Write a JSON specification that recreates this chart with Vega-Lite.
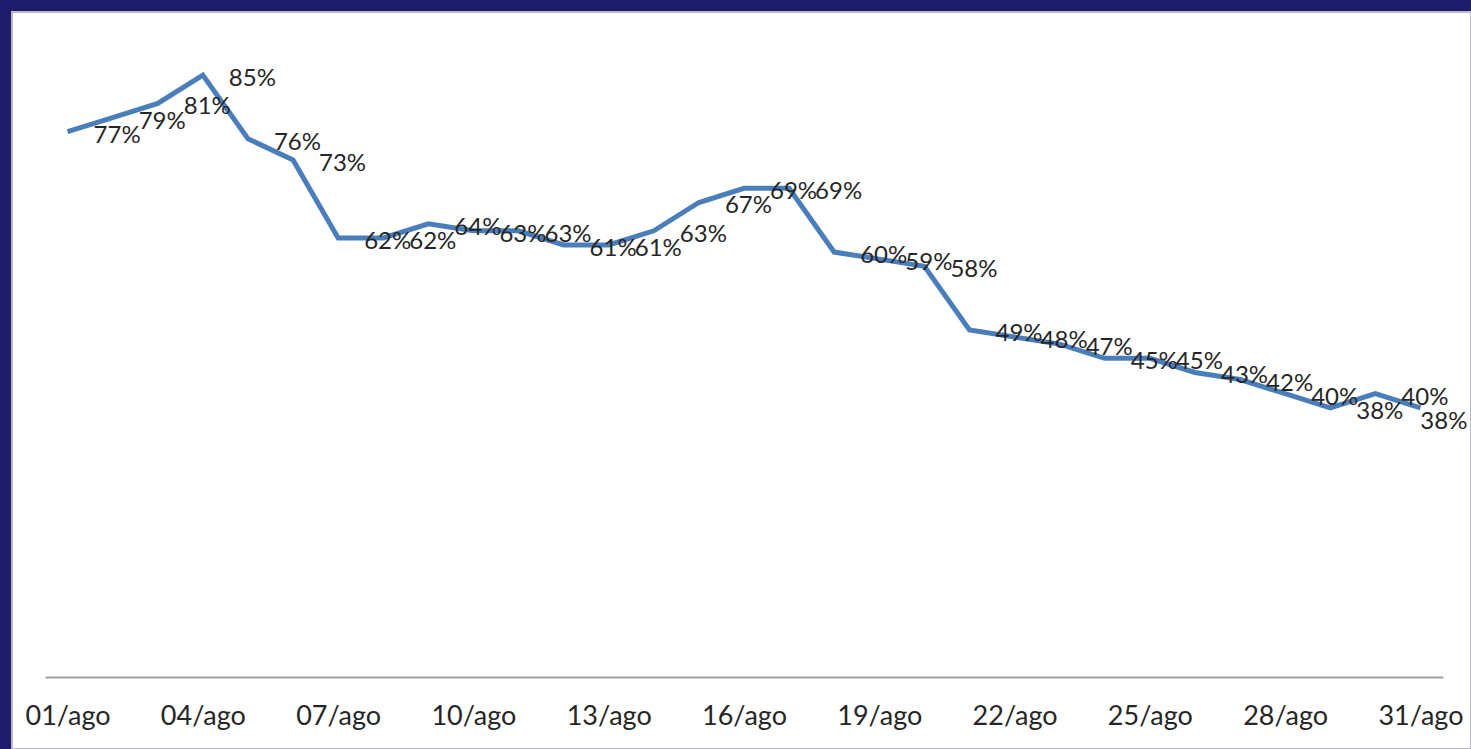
{
  "$schema": "https://vega.github.io/schema/vega-lite/v6.json",
  "width": 1459,
  "height": 737,
  "autosize": {"type": "none"},
  "padding": {"left": 12, "top": 12, "right": 0, "bottom": 0},
  "background": "#201c6c",
  "config": {
    "view": {"fill": "white", "stroke": "#b8b8c8", "strokeWidth": 2}
  },
  "data": {
    "values": [
      {"dia": "01/ago", "v": 0.77}, {"dia": "02/ago", "v": 0.79}, {"dia": "03/ago", "v": 0.81},
      {"dia": "04/ago", "v": 0.85}, {"dia": "05/ago", "v": 0.76}, {"dia": "06/ago", "v": 0.73},
      {"dia": "07/ago", "v": 0.62}, {"dia": "08/ago", "v": 0.62}, {"dia": "09/ago", "v": 0.64},
      {"dia": "10/ago", "v": 0.63}, {"dia": "11/ago", "v": 0.63}, {"dia": "12/ago", "v": 0.61},
      {"dia": "13/ago", "v": 0.61}, {"dia": "14/ago", "v": 0.63}, {"dia": "15/ago", "v": 0.67},
      {"dia": "16/ago", "v": 0.69}, {"dia": "17/ago", "v": 0.69}, {"dia": "18/ago", "v": 0.60},
      {"dia": "19/ago", "v": 0.59}, {"dia": "20/ago", "v": 0.58}, {"dia": "21/ago", "v": 0.49},
      {"dia": "22/ago", "v": 0.48}, {"dia": "23/ago", "v": 0.47}, {"dia": "24/ago", "v": 0.45},
      {"dia": "25/ago", "v": 0.45}, {"dia": "26/ago", "v": 0.43}, {"dia": "27/ago", "v": 0.42},
      {"dia": "28/ago", "v": 0.40}, {"dia": "29/ago", "v": 0.38}, {"dia": "30/ago", "v": 0.40},
      {"dia": "31/ago", "v": 0.38}
    ]
  },
  "encoding": {
    "x": {
      "field": "dia",
      "type": "ordinal",
      "sort": null,
      "scale": {"type": "point", "padding": 0.5, "range": [33, 1431]},
      "axis": {
        "title": null,
        "orient": "bottom",
        "offset": -72,
        "values": ["01/ago", "04/ago", "07/ago", "10/ago", "13/ago", "16/ago", "19/ago", "22/ago", "25/ago", "28/ago", "31/ago"],
        "labelAngle": 0,
        "labelFont": "Lato",
        "labelFontSize": 27,
        "labelColor": "#262626",
        "labelPadding": 26,
        "ticks": false,
        "grid": false,
        "domainColor": "#a0a0a0",
        "domainWidth": 2
      }
    },
    "y": {
      "field": "v",
      "type": "quantitative",
      "scale": {"domain": [-0.1017, 0.939], "nice": false, "zero": false},
      "axis": null
    }
  },
  "layer": [
    {
      "mark": {"type": "line", "color": "#4a7ebb", "strokeWidth": 5, "strokeJoin": "miter"}
    },
    {
      "transform": [{"filter": "datum.dia !== '31/ago'"}],
      "mark": {"type": "text", "align": "left", "baseline": "middle", "dx": 26, "dy": 4, "font": "Lato", "fontSize": 24, "color": "#262626"},
      "encoding": {
        "text": {"field": "v", "type": "quantitative", "format": ".0%"}
      }
    },
    {
      "transform": [{"filter": "datum.dia === '31/ago'"}],
      "mark": {"type": "text", "align": "right", "baseline": "middle", "dx": 47, "dy": 14, "font": "Lato", "fontSize": 24, "color": "#262626"},
      "encoding": {
        "text": {"field": "v", "type": "quantitative", "format": ".0%"}
      }
    }
  ]
}
